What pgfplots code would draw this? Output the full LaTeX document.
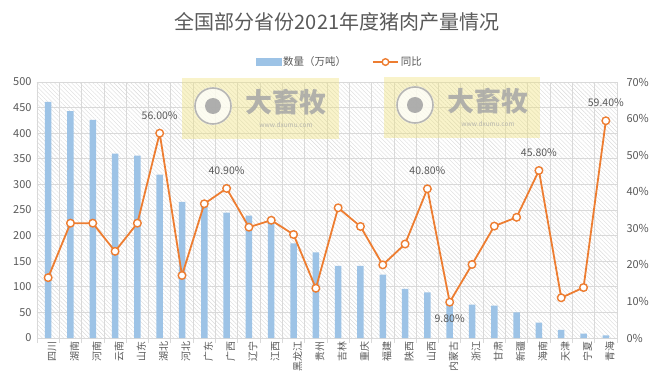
\documentclass[border=0pt]{standalone}
\usepackage{fontspec}
\setmainfont{Noto Sans CJK SC}
\usepackage{pgfplots}
\pgfplotsset{compat=1.18}
\usetikzlibrary{patterns.meta}
\definecolor{barblue}{HTML}{9DC3E6}
\definecolor{lineor}{HTML}{ED7D31}
\definecolor{txtgray}{HTML}{595959}
\definecolor{gridgray}{HTML}{D9D9D9}
\definecolor{hatchgray}{HTML}{DADADA}
\definecolor{wmyellow}{HTML}{EFE27A}
\definecolor{wmgray}{HTML}{A6A6A6}

\pgfplotstableread{
x y
0 461
1 443
2 426
3 360
4 356
5 319
6 266
7 262
8 245
9 239
10 230
11 185
12 167
13 141
14 141
15 124
16 96
17 89
18 70
19 65
20 63
21 50
22 30
23 16
24 8.5
25 5
}\bartable

\pgfplotstableread{
x y
0 16.5
1 31.4
2 31.4
3 23.7
4 31.4
5 56.0
6 17.1
7 36.7
8 40.9
9 30.3
10 32.2
11 28.3
12 13.6
13 35.6
14 30.5
15 20.0
16 25.7
17 40.8
18 9.8
19 20.1
20 30.6
21 33.0
22 45.8
23 11.0
24 13.8
25 59.4
}\linetable

\pgfplotstableread{
x y lab
5 56.0 56.00
8 40.9 40.90
17 40.8 40.80
22 45.8 45.80
25 59.4 59.40
}\uplabels

\pgfplotstableread{
x y lab
18 9.8 9.80
}\downlabels

\begin{document}
\begin{tikzpicture}
\useasboundingbox (-37pt,-51pt) rectangle (619pt,338pt);
\pgfplotsset{common/.style={
  at={(0pt,0pt)}, anchor=south west, scale only axis,
  width=580pt, height=256pt, xmin=-0.5, xmax=25.5,
  /pgf/number format/assume math mode=true,
  tick label style={font=\fontsize{11}{11}\selectfont, text=txtgray},
  major tick length=0pt,
}}

\begin{axis}[common,
  ymin=0, ymax=500, ytick={0,50,...,500},
  xtick={0,...,25},
  xticklabels={四川,湖南,河南,云南,山东,湖北,河北,广东,广西,辽宁,江西,黑龙江,贵州,吉林,重庆,福建,陕西,山西,内蒙古,浙江,甘肃,新疆,海南,天津,宁夏,青海},
  minor xtick={-0.5,0.5,...,25.5},
  minor tick length=5pt, tick align=outside,
  xminorgrids, ymajorgrids,
  grid style={gridgray, line width=0.8pt},
  minor grid style={gridgray, line width=0.8pt},
  minor tick style={gridgray, line width=0.8pt},
  axis x line*=bottom, axis y line*=left,
  axis line style={gridgray, line width=0.8pt},
  xticklabel style={rotate=90, anchor=east, font=\fontsize{10}{10}\selectfont, text=txtgray, yshift=-4pt},
  yticklabel style={xshift=-2pt},
  axis background/.style={pattern={Lines[angle=-45, distance=3pt, line width=0.4pt]}, pattern color=hatchgray},
]
\addplot[ybar, bar width=6.5pt, fill=barblue, draw=none] table[x=x, y=y] {\bartable};
\end{axis}

% watermarks
\begin{scope}
\fill[wmyellow, opacity=0.4] (145pt,199pt) rectangle (302pt,260pt);
\fill[white, opacity=0.75] (176pt,232pt) circle (19pt);
\draw[wmgray, line width=1.6pt, opacity=0.8] (176pt,232pt) circle (18pt);
\fill[wmgray, opacity=0.9] (176pt,232pt) circle (8pt);
\node[text=wmgray, font=\fontsize{27}{27}\bfseries\selectfont, opacity=0.85] at (249pt,236pt) {大畜牧};
\node[text=wmgray, font=\fontsize{6.5}{6.5}\selectfont, opacity=0.8] at (249pt,213pt) {www.dxumu.com};

\fill[wmyellow, opacity=0.4] (347pt,200pt) rectangle (503pt,261pt);
\fill[white, opacity=0.75] (378pt,233pt) circle (19pt);
\draw[wmgray, line width=1.6pt, opacity=0.8] (378pt,233pt) circle (18pt);
\fill[wmgray, opacity=0.9] (378pt,233pt) circle (8pt);
\node[text=wmgray, font=\fontsize{27}{27}\bfseries\selectfont, opacity=0.85] at (451pt,237pt) {大畜牧};
\node[text=wmgray, font=\fontsize{6.5}{6.5}\selectfont, opacity=0.8] at (451pt,214pt) {www.dxumu.com};
\end{scope}

\begin{axis}[common,
  ymin=0, ymax=70, ytick={0,10,...,70},
  yticklabel={\pgfmathprintnumber{\tick}\%},
  axis y line*=right, axis x line=none,
  axis line style={draw=none},
  yticklabel style={xshift=6pt},
  legend style={at={(0.522,1.078)}, anchor=center, draw=none, fill=none,
    legend columns=2, font=\fontsize{10.5}{10.5}\selectfont, text=txtgray,
    /tikz/every even column/.append style={column sep=24pt}},
  legend cell align=left,
]
\addlegendimage{legend image code/.code={\fill[barblue] (0pt,-3.5pt) rectangle (25pt,3.5pt);}}
\addlegendentry{数量（万吨）}
\addplot[lineor, line width=1.8pt, mark=*, mark size=3.8pt,
  mark options={fill=white, draw=lineor, line width=1.4pt},
  legend image code/.code={\draw[lineor, line width=1.8pt] (0pt,0pt) -- (25pt,0pt); \draw[lineor, line width=1.4pt, fill=white] (12.5pt,0pt) circle (3.3pt);}]
  table[x=x, y=y] {\linetable};
\addlegendentry{同比}
\addplot[forget plot, draw=none, mark=none, nodes near coords={\pgfplotspointmeta\%},
  point meta=explicit symbolic,
  nodes near coords style={anchor=center, yshift=18pt, font=\fontsize{10.5}{10.5}\selectfont, text=txtgray}]
  table[x=x, y=y, meta=lab] {\uplabels};
\addplot[forget plot, draw=none, mark=none, nodes near coords={\pgfplotspointmeta\%},
  point meta=explicit symbolic,
  nodes near coords style={anchor=center, yshift=-16pt, font=\fontsize{10.5}{10.5}\selectfont, text=txtgray}]
  table[x=x, y=y, meta=lab] {\downlabels};
\end{axis}

\node[font=\fontsize{20}{20}\selectfont, text=txtgray] at (300pt,316pt) {全国部分省份2021年度猪肉产量情况};
\end{tikzpicture}
\end{document}
